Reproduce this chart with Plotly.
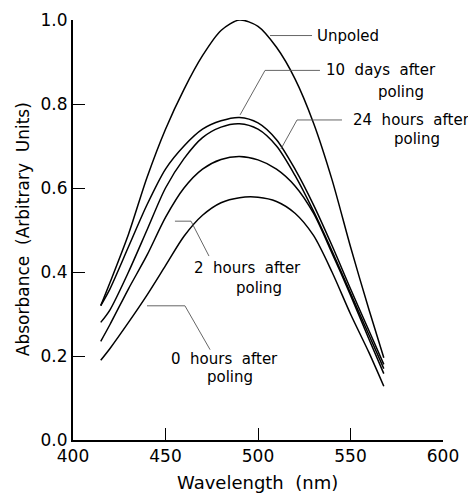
import plotly.graph_objects as go

# Data
wavelength = [415, 420, 430, 440, 450, 460, 470, 480, 490, 500, 510, 520, 530, 540, 550, 560, 568]
unpoled    = [0.32, 0.375, 0.49, 0.625, 0.74, 0.835, 0.915, 0.975, 1.0, 0.985, 0.935, 0.86, 0.755, 0.62, 0.46, 0.31, 0.196]
days10     = [0.32, 0.36, 0.46, 0.56, 0.645, 0.70, 0.74, 0.76, 0.768, 0.755, 0.715, 0.645, 0.56, 0.463, 0.36, 0.26, 0.18]
hours24    = [0.28, 0.31, 0.40, 0.50, 0.60, 0.67, 0.72, 0.745, 0.753, 0.74, 0.70, 0.63, 0.545, 0.45, 0.35, 0.25, 0.17]
hours2     = [0.235, 0.275, 0.36, 0.44, 0.53, 0.60, 0.645, 0.668, 0.675, 0.667, 0.645, 0.605, 0.54, 0.445, 0.345, 0.24, 0.158]
hours0     = [0.19, 0.218, 0.28, 0.345, 0.415, 0.485, 0.535, 0.565, 0.577, 0.578, 0.568, 0.54, 0.487, 0.40, 0.30, 0.208, 0.128]

series = [("Unpoled", unpoled), ("10 days after poling", days10),
          ("24 hours after poling", hours24), ("2 hours after poling", hours2),
          ("0 hours after poling", hours0)]

x_ticks = [400, 450, 500, 550, 600]
y_ticks = [0.0, 0.2, 0.4, 0.6, 0.8, 1.0]
y_labels = ["0.0", "0.2", "0.4", "0.6", "0.8", "1.0"]

FONT = "DejaVu Sans"
NB = "\u00a0"
fig = go.Figure()
for name, vals in series:
    fig.add_trace(go.Scatter(x=wavelength, y=vals, mode="lines", name=name,
                             line=dict(color="black", width=1.5, shape="spline", smoothing=0.8),
                             showlegend=False, hoverinfo="skip"))

# leader lines (x, y pairs in data units)
leaders = [
    ([506.5, 529.2], [0.963, 0.963]),
    ([533.5, 503.8, 490.3], [0.880, 0.880, 0.774]),
    ([545.4, 521.1, 512.4], [0.762, 0.762, 0.693]),
    ([455.1, 463.8, 473.5], [0.521, 0.521, 0.438]),
    ([440.0, 460.5, 474.1], [0.3195, 0.3195, 0.215]),
]
for lx, ly in leaders:
    fig.add_trace(go.Scatter(x=lx, y=ly, mode="lines", showlegend=False, hoverinfo="skip",
                             line=dict(color="#555555", width=0.9)))

labels = [
    ("Unpoled", 531.4, 0.961, "left"),
    ("10" + NB + " days" + NB + " after", 536.2, 0.880, "left"),
    ("poling", 577.3, 0.828, "center"),
    ("24" + NB + " hours" + NB + " after", 550.8, 0.762, "left"),
    ("poling", 586.0, 0.717, "center"),
    ("2" + NB + " hours" + NB + " after", 464.9, 0.409, "left"),
    ("poling", 500.5, 0.362, "center"),
    ("0" + NB + " hours" + NB + " after", 452.4, 0.194, "left"),
    ("poling", 484.9, 0.149, "center"),
]
for text, x, y, anchor in labels:
    fig.add_annotation(x=x, y=y, text=text, showarrow=False, xanchor=anchor, yanchor="middle",
                       borderpad=0, font=dict(family=FONT, size=15, color="black"))

# axis titles
fig.add_annotation(xref="paper", yref="paper", x=-0.135, y=0.502, text="Absorbance" + NB + " (Arbitrary" + NB + " Units)",
                   textangle=-90, showarrow=False, xanchor="center", yanchor="middle",
                   font=dict(family=FONT, size=17, color="black"))
fig.add_annotation(xref="paper", yref="paper", x=0.498, y=-0.1, text="Wavelength" + NB + " (nm)",
                   showarrow=False, xanchor="center", yanchor="middle",
                   font=dict(family=FONT, size=18, color="black"))

# page body has an 8px default margin, so the figure is sized to fit the window
fig.update_layout(
    width=468, height=486,
    margin=dict(l=65, r=33, t=12, b=54),
    paper_bgcolor="white", plot_bgcolor="white",
    font=dict(family=FONT, color="black"),
)
fig.update_xaxes(range=[400, 600], tickvals=x_ticks, ticktext=[str(v) for v in x_ticks],
                 showline=True, linecolor="black", linewidth=2, ticks="inside", ticklen=12,
                 tickwidth=1.3, tickcolor="black", showgrid=False, zeroline=False, automargin=False,
                 tickfont=dict(family=FONT, size=17))
fig.update_yaxes(range=[0, 1.0], tickvals=y_ticks, ticktext=y_labels,
                 showline=True, linecolor="black", linewidth=2, ticks="inside", ticklen=12,
                 tickwidth=1.3, tickcolor="black", showgrid=False, zeroline=False, automargin=False,
                 tickfont=dict(family=FONT, size=17))

fig.write_html("out.html")
